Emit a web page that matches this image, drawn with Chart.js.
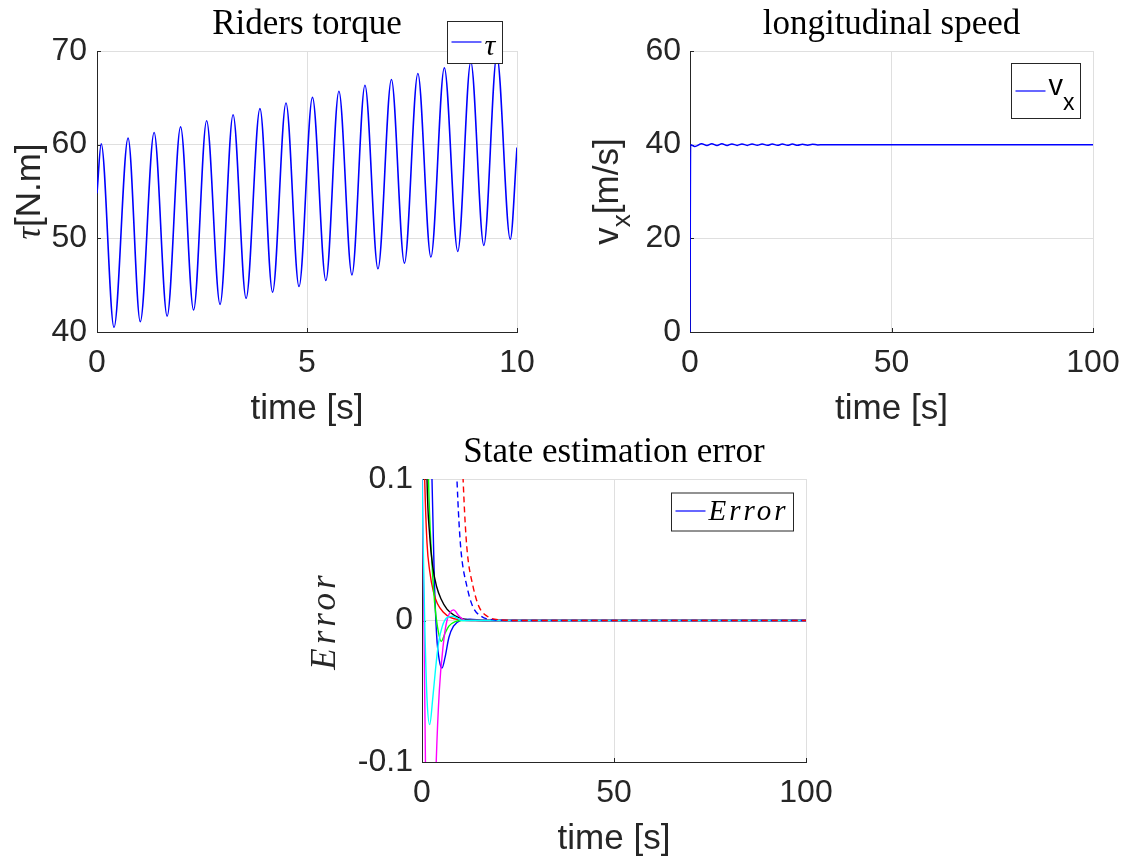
<!DOCTYPE html>
<html>
<head>
<meta charset="utf-8">
<title>Rider model results</title>
<script src="https://cdn.jsdelivr.net/npm/chart.js@4.4.1/dist/chart.umd.min.js"></script>
<style>
  body { margin: 0; background: #fff; }
  #page { position: relative; width: 1126px; height: 861px; overflow: hidden; }
  canvas { position: absolute; }
</style>
</head>
<body>
<div id="page">
  <canvas id="torqueChart" width="563" height="430" style="left:0;top:0"></canvas>
  <canvas id="speedChart" width="563" height="430" style="left:563px;top:0"></canvas>
  <canvas id="errorChart" width="563" height="433" style="left:280px;top:428px"></canvas>
</div>
<script>
// rider torque over the first 10 s (peaks and troughs)
var torqueTime = [0, 0.10, 0.405, 0.74, 1.03, 1.36, 1.67, 1.99, 2.30, 2.61, 2.93, 3.24, 3.55, 3.88, 4.18, 4.50, 4.81,
  5.13, 5.45, 5.76, 6.07, 6.38, 6.69, 7.01, 7.32, 7.64, 7.95, 8.27, 8.59, 8.90, 9.21, 9.52, 9.84, 10];
var torqueValue = [54.8, 60.1, 40.5, 60.7, 41.1, 61.3, 41.7, 61.9, 42.35, 62.55, 42.95, 63.2, 43.6, 63.85, 44.25, 64.45, 44.85,
  65.05, 45.5, 65.7, 46.1, 66.35, 46.75, 66.95, 47.35, 67.6, 48.0, 68.2, 48.6, 68.85, 49.25, 69.5, 49.9, 59.7];
var torqueTicksX = [0, 5, 10];
var torqueTicksY = [40, 50, 60, 70];

// longitudinal speed
var speedTime = [0, 0.15, 1.2, 2.9, 4.2, 5.4, 6.7, 7.9, 9.2, 10.4, 11.7, 12.9, 14.2, 15.4, 16.7, 17.9, 19.2, 20.4,
  21.7, 22.9, 24.2, 25.4, 26.7, 27.9, 29.2, 30.4, 31.7, 33, 100];
var speedValue = [0, 40, 39.6, 40.18, 39.83, 40.18, 39.83, 40.18, 39.83, 40.16, 39.84, 40.16, 39.84, 40.15, 39.85, 40.15, 39.85, 40.14,
  39.86, 40.13, 39.87, 40.12, 39.88, 40.1, 39.9, 40.08, 39.95, 40, 40];
var speedTicksX = [0, 50, 100];
var speedTicksY = [0, 20, 40, 60];

// state estimation errors
var errBlueTime = [0, 2.6, 3.2, 3.8, 4.5, 5.2, 6.0, 7.0, 8.2, 10, 12.5, 16, 100];
var errBlueValue = [0.5, 0.1, 0.03, -0.01, -0.028, -0.0336, -0.026, -0.012, -0.004, 0, 0.001, 0, 0];
var errRedTime = [0, 0.7, 1.3, 2.0, 3.0, 4.0, 5.5, 7.5, 10, 14, 100];
var errRedValue = [0.2, 0.1, 0.055, 0.035, 0.02, 0.012, 0.006, 0.002, 0.0005, 0, 0];
var errGreenTime = [0, 1.7, 2.5, 3.3, 4.0, 5.0, 6.0, 7.0, 8.5, 10.5, 100];
var errGreenValue = [0.4, 0.1, 0.045, 0.012, -0.004, -0.0147, -0.009, -0.004, -0.001, 0, 0];
var errBlackTime = [0, 1.3, 2.0, 2.8, 3.8, 5.0, 6.5, 8.5, 11, 15, 100];
var errBlackValue = [0.35, 0.1, 0.06, 0.038, 0.024, 0.015, 0.008, 0.0035, 0.001, 0, 0];
var errMagentaTime = [0, 0.5, 0.9, 1.5, 2.3, 3.0, 3.7, 4.5, 5.5, 6.5, 8.2, 9.7, 11.5, 100];
var errMagentaValue = [0.12, 0, -0.1, -0.17, -0.2, -0.17, -0.1, -0.05, -0.018, 0, 0.0075, 0.003, 0, 0];
var errCyanTime = [0, 0.7, 1.3, 2.0, 2.8, 3.5, 4.3, 5.3, 6.5, 8.0, 10.5, 100];
var errCyanValue = [0.1, 0, -0.055, -0.0736, -0.055, -0.035, -0.016, -0.004, 0.002, 0.003, 0, 0];
var errBlueDashTime = [6.2, 7.7, 9.1, 9.6, 10.2, 11.7, 13.2, 15.4, 18.8, 24, 100];
var errBlueDashValue = [0.6, 0.2, 0.1, 0.071, 0.048, 0.024, 0.010, 0.003, 0.0005, 0, 0];
var errRedDashTime = [7.8, 9.3, 10.7, 11.2, 11.8, 13.3, 14.8, 17.0, 20.4, 26, 100];
var errRedDashValue = [0.6, 0.2, 0.1, 0.071, 0.048, 0.024, 0.010, 0.003, 0.0005, 0, 0];
var errTicksX = [0, 50, 100];
var errTicksY = [-0.1, 0, 0.1];
var errTickLabelsY = ['-0.1', '0', '0.1'];

var sans = '"Liberation Sans", Arial, Helvetica, sans-serif';
var serif = '"Liberation Serif", "Times New Roman", serif';
var axisColor = '#262626';
var gridColor = '#dfdfdf';

function pts(xs, ys) {
  return xs.map(function (x, i) { return { x: x, y: ys[i] }; });
}

function axisX(min, max, ticks) {
  return {
    type: 'linear', min: min, max: max,
    afterBuildTicks: function (s) { s.ticks = ticks.map(function (v) { return { value: v }; }); },
    afterFit: function (s) {
      s.height = 98;
      // end labels may hang past the plot, layout padding already leaves room
      s.paddingLeft = 0;
      s.paddingRight = 0;
    },
    grid: { color: gridColor, drawTicks: false },
    border: { color: axisColor },
    ticks: { font: { family: sans, size: 32 }, color: axisColor, padding: 12, maxRotation: 0, autoSkip: false,
      callback: function (v, i) { return String(ticks[i]); } },
    title: { display: true, text: 'time [s]', font: { family: sans, size: 35 }, color: axisColor, padding: 0 }
  };
}

function axisY(min, max, ticks, labels, width, pad) {
  return {
    type: 'linear', min: min, max: max,
    afterBuildTicks: function (s) { s.ticks = ticks.map(function (v) { return { value: v }; }); },
    afterFit: function (s) { s.width = width; },
    grid: { color: gridColor, drawTicks: false },
    border: { color: axisColor },
    ticks: { font: { family: sans, size: 32 }, color: axisColor, padding: pad, autoSkip: false,
      callback: function (v, i) { return labels[i]; } }
  };
}

// text made of several runs (fonts, subscripts), drawn left to right from x on baseline y
function drawRuns(ctx, parts, x, y) {
  parts.forEach(function (p) {
    ctx.font = p.font;
    ctx.letterSpacing = p.spacing || '0px';
    ctx.fillText(p.text, x, y + (p.dy || 0));
    x += ctx.measureText(p.text).width;
  });
  ctx.letterSpacing = '0px';
}

function runsWidth(ctx, parts) {
  var w = 0;
  parts.forEach(function (p) {
    ctx.font = p.font;
    ctx.letterSpacing = p.spacing || '0px';
    w += ctx.measureText(p.text).width;
  });
  ctx.letterSpacing = '0px';
  return w;
}

// rotated y-axis title with mixed fonts
var yLabel = {
  id: 'yLabel',
  afterDraw: function (chart, args, opts) {
    var ctx = chart.ctx, a = chart.chartArea;
    ctx.save();
    ctx.fillStyle = axisColor;
    ctx.textBaseline = 'alphabetic';
    ctx.translate(opts.x, (a.top + a.bottom) / 2);
    ctx.rotate(-Math.PI / 2);
    drawRuns(ctx, opts.parts, -runsWidth(ctx, opts.parts) / 2, 0);
    ctx.restore();
  }
};

// boxed legend for the first dataset
var boxLegend = {
  id: 'boxLegend',
  afterDraw: function (chart, args, opts) {
    var ctx = chart.ctx, ds = chart.data.datasets[0];
    ctx.save();
    ctx.fillStyle = '#fff';
    ctx.fillRect(opts.x, opts.y, opts.w, opts.h);
    ctx.strokeStyle = axisColor;
    ctx.lineWidth = 1;
    ctx.strokeRect(opts.x, opts.y, opts.w, opts.h);
    ctx.strokeStyle = ds.borderColor;
    ctx.lineWidth = 1.2;
    ctx.beginPath();
    ctx.moveTo(opts.x + 4, opts.lineY);
    ctx.lineTo(opts.x + 34, opts.lineY);
    ctx.stroke();
    ctx.fillStyle = '#000';
    ctx.textBaseline = 'alphabetic';
    drawRuns(ctx, opts.parts, opts.x + 37, opts.textY);
    ctx.restore();
  }
};

// short inward tick marks on the left and bottom axes
var innerTicks = {
  id: 'innerTicks',
  beforeDatasetsDraw: function (chart) {
    var ctx = chart.ctx, a = chart.chartArea, sx = chart.scales.x, sy = chart.scales.y;
    ctx.save();
    ctx.strokeStyle = axisColor;
    ctx.lineWidth = 1;
    ctx.beginPath();
    sx.ticks.forEach(function (t) {
      var px = Math.round(sx.getPixelForValue(t.value)) + 0.5;
      ctx.moveTo(px, a.bottom);
      ctx.lineTo(px, a.bottom - 4);
    });
    sy.ticks.forEach(function (t) {
      var py = Math.round(sy.getPixelForValue(t.value)) + 0.5;
      ctx.moveTo(a.left, py);
      ctx.lineTo(a.left + 4, py);
    });
    ctx.stroke();
    ctx.restore();
  }
};

function titleOpts(text) {
  return { display: true, text: text, fullSize: false, color: '#000',
    font: { family: serif, size: 35, weight: 'normal' }, padding: { top: 4, bottom: 5 } };
}

function line(label, xs, ys, color, extra) {
  var d = { label: label, data: pts(xs, ys), borderColor: color, borderWidth: 1.4,
    pointRadius: 0, fill: false, cubicInterpolationMode: 'monotone' };
  return Object.assign(d, extra || {});
}

Chart.defaults.animation = false;
Chart.defaults.events = [];
Chart.defaults.devicePixelRatio = 1;

new Chart(document.getElementById('torqueChart'), {
  type: 'line',
  data: { datasets: [line('τ', torqueTime, torqueValue, '#0000ff', { borderWidth: 1.6 })] },
  options: {
    responsive: false,
    layout: { padding: { left: 0, right: 46, top: 0, bottom: 0 } },
    scales: {
      x: axisX(0, 10, torqueTicksX),
      y: axisY(40, 70, torqueTicksY, torqueTicksY.map(String), 97, 10)
    },
    plugins: {
      legend: { display: false },
      tooltip: { enabled: false },
      title: titleOpts('Riders torque'),
      yLabel: { x: 40, parts: [
        { text: 'τ', font: 'italic 35px ' + serif },
        { text: '[N.m]', font: '35px ' + sans }] },
      boxLegend: { x: 447.5, y: 21.5, w: 55, h: 42, lineY: 42, textY: 55,
        parts: [{ text: 'τ', font: 'italic 30px ' + serif }] }
    }
  },
  plugins: [innerTicks, yLabel, boxLegend]
});

new Chart(document.getElementById('speedChart'), {
  type: 'line',
  data: { datasets: [line('vx', speedTime, speedValue, '#0000ff', { borderWidth: 1.5 })] },
  options: {
    responsive: false,
    layout: { padding: { left: 0, right: 33, top: 0, bottom: 0 } },
    scales: {
      x: axisX(0, 100, speedTicksX),
      y: axisY(0, 60, speedTicksY, speedTicksY.map(String), 127, 9)
    },
    plugins: {
      legend: { display: false },
      tooltip: { enabled: false },
      title: titleOpts('longitudinal speed'),
      yLabel: { x: 55, parts: [
        { text: 'v', font: '35px ' + sans },
        { text: 'x', font: '26px ' + sans, dy: 12 },
        { text: '[m/s]', font: '35px ' + sans }] },
      boxLegend: { x: 448.5, y: 63.5, w: 69, h: 55, lineY: 91, textY: 95,
        parts: [
          { text: 'v', font: '29px ' + sans },
          { text: 'x', font: '23px ' + sans, dy: 15 }] }
    }
  },
  plugins: [innerTicks, yLabel, boxLegend]
});

new Chart(document.getElementById('errorChart'), {
  type: 'line',
  data: {
    datasets: [
      line('Error', errBlueTime, errBlueValue, '#0000ff', { order: 7 }),
      line('', errRedTime, errRedValue, '#ff0000', { order: 6 }),
      line('', errGreenTime, errGreenValue, '#00ff00', { order: 5 }),
      line('', errBlackTime, errBlackValue, '#000000', { order: 4 }),
      line('', errMagentaTime, errMagentaValue, '#ff00ff', { order: 3 }),
      line('', errCyanTime, errCyanValue, '#00ffff', { order: 2 }),
      line('', errBlueDashTime, errBlueDashValue, '#0000ff', { order: 1, borderDash: [6, 4] }),
      line('', errRedDashTime, errRedDashValue, '#ff0000', { order: 0, borderDash: [6, 4], borderDashOffset: 5 })
    ]
  },
  options: {
    responsive: false,
    layout: { padding: { left: 0, right: 37, top: 0, bottom: 1 } },
    scales: {
      x: axisX(0, 100, errTicksX),
      y: axisY(-0.1, 0.1, errTicksY, errTickLabelsY, 142, 9)
    },
    plugins: {
      legend: { display: false },
      tooltip: { enabled: false },
      title: titleOpts('State estimation error'),
      yLabel: { x: 55, parts: [{ text: 'Error', font: 'italic 35px ' + serif, spacing: '4px' }] },
      boxLegend: { x: 391.5, y: 65, w: 122, h: 38, lineY: 83, textY: 92,
        parts: [{ text: 'Error', font: 'italic 29px ' + serif, spacing: '3px' }] }
    }
  },
  plugins: [innerTicks, yLabel, boxLegend]
});
</script>
</body>
</html>
